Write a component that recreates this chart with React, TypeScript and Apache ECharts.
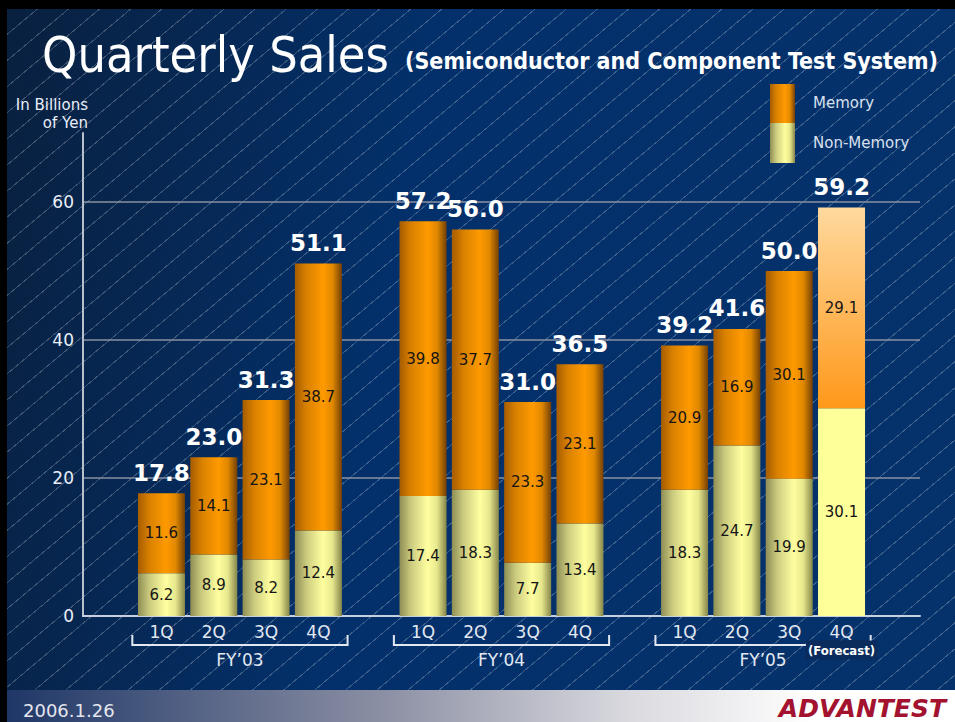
import React, { useEffect, useRef } from "react";
import * as echarts from "echarts";

// ---- data ----
const categories = ["", "1Q", "2Q", "3Q", "4Q", "", "1Q", "2Q", "3Q", "4Q", "", "1Q", "2Q", "3Q", "4Q", ""];
const fiscalYears = ["FY\u201903", "FY\u201904", "FY\u201905"];
const fiscalYearRanges = [[1, 4], [6, 9], [11, 14]];
const nonMemory = ["-", 6.2, 8.9, 8.2, 12.4, "-", 17.4, 18.3, 7.7, 13.4, "-", 18.3, 24.7, 19.9, 30.1, "-"];
const memory = ["-", 11.6, 14.1, 23.1, 38.7, "-", 39.8, 37.7, 23.3, 23.1, "-", 20.9, 16.9, 30.1, 29.1, "-"];
const totals = ["-", 17.8, 23.0, 31.3, 51.1, "-", 57.2, 56.0, 31.0, 36.5, "-", 39.2, 41.6, 50.0, 59.2, "-"];
const forecastIndex = 14;
const yAxisMax = 70;
const yAxisInterval = 20;

const FONT = "DejaVu Sans";
const COND = "'DejaVu Sans Condensed', 'DejaVu Sans'";

export default function App() {
  const ref = useRef<HTMLDivElement>(null);

  useEffect(() => {
    if (!ref.current) return;
    const chart = echarts.init(ref.current, null, { renderer: "svg" });
    const LG = echarts.graphic.LinearGradient;

    const memGrad = () =>
      new LG(0, 0, 1, 0, [
        { offset: 0, color: "#a65c00" },
        { offset: 0.25, color: "#d98100" },
        { offset: 0.6, color: "#ff9a00" },
        { offset: 0.8, color: "#e08800" },
        { offset: 1, color: "#744006" },
      ]);
    const nonGrad = () =>
      new LG(0, 0, 1, 0, [
        { offset: 0, color: "#8e8e55" },
        { offset: 0.25, color: "#cccc80" },
        { offset: 0.6, color: "#ffffa0" },
        { offset: 0.8, color: "#e6e68c" },
        { offset: 1, color: "#86864a" },
      ]);
    const forecastMem = new LG(0, 0, 0, 1, [
      { offset: 0, color: "#ffd99e" },
      { offset: 1, color: "#ff981a" },
    ]);

    const nonData = nonMemory.map((v, i) =>
      i === forecastIndex ? { value: v, itemStyle: { color: "#ffff99" } } : v
    );
    const memData = memory.map((v, i) =>
      i === forecastIndex ? { value: v, itemStyle: { color: forecastMem } } : v
    );

    const innerLabel = {
      show: true,
      position: "inside",
      color: "#151515",
      fontSize: 15,
      fontFamily: FONT,
      formatter: (p: any) => Number(p.value).toFixed(1),
    };

    chart.setOption({
      animation: false,
      backgroundColor: "transparent",
      title: [
        {
          text: "Quarterly Sales",
          left: 42,
          top: 30,
          padding: 0,
          textStyle: { color: "#ffffff", fontSize: 50, fontWeight: "normal", fontFamily: COND },
        },
        {
          text: "(Semiconductor and Component Test System)",
          left: 405,
          top: 49,
          padding: 0,
          textStyle: { color: "#ffffff", fontSize: 23, fontWeight: "bold", fontFamily: COND },
        },
      ],
      grid: { left: 83, right: 35, top: 133, bottom: 106, containLabel: false },
      xAxis: {
        type: "category",
        data: categories,
        axisLine: { show: true, lineStyle: { color: "#c8d0e0", width: 2 } },
        axisTick: { show: false },
        axisLabel: { color: "#e2e8f2", fontSize: 17, fontFamily: FONT, margin: 7, interval: 0 },
      },
      yAxis: {
        type: "value",
        min: 0,
        max: yAxisMax,
        interval: yAxisInterval,
        axisLine: { show: true, lineStyle: { color: "#b8c0cc", width: 2 } },
        axisTick: { show: false },
        axisLabel: { color: "#e8eef8", fontSize: 17, fontFamily: FONT, margin: 9, showMaxLabel: false },
        splitLine: { show: true, showMinLine: false, showMaxLine: false, lineStyle: { color: "#8890a0", width: 1.5 } },
      },
      series: [
        {
          name: "Non-Memory",
          type: "bar",
          stack: "sales",
          barWidth: 47,
          data: nonData,
          itemStyle: { color: nonGrad() },
          label: innerLabel,
          silent: true,
        },
        {
          name: "Memory",
          type: "bar",
          stack: "sales",
          barWidth: 47,
          data: memData,
          itemStyle: { color: memGrad() },
          label: innerLabel,
          silent: true,
        },
        {
          name: "Total",
          type: "bar",
          barWidth: 47,
          barGap: "-100%",
          data: totals,
          itemStyle: { color: "rgba(0,0,0,0)" },
          label: {
            show: true,
            position: "top",
            distance: 9,
            color: "#ffffff",
            fontSize: 23,
            fontWeight: "bold",
            fontFamily: FONT,
            formatter: (p: any) => Number(p.value).toFixed(1),
          },
          silent: true,
          z: 5,
        },
      ],
    });

    // decorations computed from the axes
    const px = (i: number) => chart.convertToPixel({ xAxisIndex: 0 }, i) as number;
    const py = (v: number) => chart.convertToPixel({ yAxisIndex: 0 }, v) as number;
    const band = px(2) - px(1);
    const y0 = py(0);
    const lineStyle = { stroke: "#e2e8f2", lineWidth: 2 };
    const brackets: any[] = [];
    fiscalYearRanges.forEach(([a, b], k) => {
      const x1 = px(a) - band / 2 - 3;
      const x2 = px(b) + band / 2 + 3;
      brackets.push({
        type: "polyline",
        shape: { points: [[x1, y0 + 19], [x1, y0 + 29], [x2, y0 + 29], [x2, y0 + 19]] },
        style: { ...lineStyle, fill: null },
        silent: true,
      });
      brackets.push({
        type: "text",
        x: (x1 + x2) / 2,
        y: y0 + 44,
        style: { text: fiscalYears[k], fill: "#e2e8f2", fontSize: 17, fontFamily: FONT, align: "center", verticalAlign: "middle" },
        silent: true,
      });
    });
    brackets.push({
      type: "text",
      x: px(forecastIndex),
      y: y0 + 34,
      z: 10,
      style: {
        text: "(Forecast)",
        fill: "#ffffff",
        fontSize: 13,
        fontWeight: "bold",
        fontFamily: COND,
        align: "center",
        verticalAlign: "middle",
        backgroundColor: "#0a2c5c",
        padding: [3, 2, 3, 2],
      },
      silent: true,
    });

    const legend: any[] = [
      {
        type: "rect",
        shape: { x: 770, y: 84, width: 25, height: 39 },
        style: { fill: memGrad() },
        silent: true,
      },
      {
        type: "rect",
        shape: { x: 770, y: 123, width: 25, height: 40 },
        style: { fill: nonGrad() },
        silent: true,
      },
      {
        type: "text",
        x: 813,
        y: 103,
        style: { text: "Memory", fill: "#d8e0ee", fontSize: 15, fontFamily: FONT, verticalAlign: "middle" },
        silent: true,
      },
      {
        type: "text",
        x: 813,
        y: 143,
        style: { text: "Non-Memory", fill: "#d8e0ee", fontSize: 15, fontFamily: FONT, verticalAlign: "middle" },
        silent: true,
      },
    ];

    const misc: any[] = [
      {
        type: "text",
        x: 88,
        y: 105,
        style: { text: "In Billions", fill: "#e8eef8", fontSize: 15, fontFamily: FONT, align: "right", verticalAlign: "middle" },
        silent: true,
      },
      {
        type: "text",
        x: 88,
        y: 123,
        style: { text: "of Yen", fill: "#e8eef8", fontSize: 15, fontFamily: FONT, align: "right", verticalAlign: "middle" },
        silent: true,
      },
      {
        type: "text",
        x: 23,
        y: 710,
        style: { text: "2006.1.26", fill: "#e4e6ee", fontSize: 18, fontFamily: FONT, verticalAlign: "middle" },
        silent: true,
      },
      {
        type: "text",
        x: 946,
        y: 708,
        style: {
          text: "ADVANTEST",
          fill: "#a3122e",
          fontSize: 25,
          fontWeight: "bold",
          fontStyle: "italic",
          fontFamily: FONT,
          align: "right",
          verticalAlign: "middle",
        },
        silent: true,
      },
    ];

    chart.setOption({ graphic: [...brackets, ...legend, ...misc] });

    return () => chart.dispose();
  }, []);

  return (
    <div style={{ position: "fixed", left: 0, top: 0, width: 955, height: 722, background: "#000", overflow: "hidden" }}>
      <div
        style={{
          position: "absolute",
          left: 7,
          top: 9,
          width: 948,
          height: 681,
          background:
            "repeating-linear-gradient(140deg, rgba(255,255,255,0) 0px, rgba(255,255,255,0) 19px, rgba(255,255,255,0.22) 19px, rgba(255,255,255,0.22) 20px), linear-gradient(100deg, #09203f 0%, #03306a 40%, #05326b 100%)",
        }}
      />
      <div
        style={{
          position: "absolute",
          left: 7,
          top: 690,
          width: 948,
          height: 32,
          background: "linear-gradient(90deg, #1f3767 0%, #8c90a4 40%, #d8d8de 65%, #ffffff 85%)",
        }}
      />
      <div ref={ref} style={{ position: "absolute", left: 0, top: 0, width: 955, height: 722 }} />
    </div>
  );
}
